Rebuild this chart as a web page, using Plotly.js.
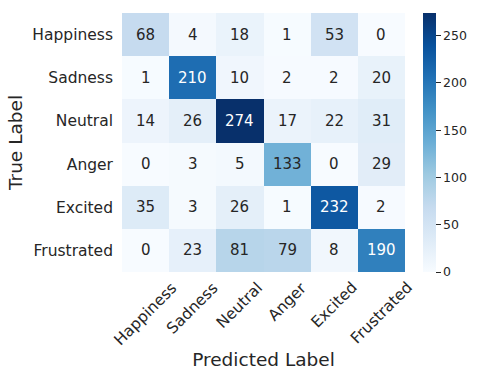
<!DOCTYPE html>
<html><head><meta charset="utf-8">
<script src="https://cdn.plot.ly/plotly-3.0.1.min.js"></script>
<style>html,body{margin:0;padding:0;background:#fff;}#chart{width:493px;height:388px;}</style>
</head><body><div id="chart"></div>
<script>
const labels = ["Happiness","Sadness","Neutral","Anger","Excited","Frustrated"];
const rowHappiness = [68, 4, 18, 1, 53, 0];
const rowSadness = [1, 210, 10, 2, 2, 20];
const rowNeutral = [14, 26, 274, 17, 22, 31];
const rowAnger = [0, 3, 5, 133, 0, 29];
const rowExcited = [35, 3, 26, 1, 232, 2];
const rowFrustrated = [0, 23, 81, 79, 8, 190];
const z = [rowHappiness, rowSadness, rowNeutral, rowAnger, rowExcited, rowFrustrated];

const blues = [[0,'#f7fbff'],[0.125,'#deebf7'],[0.25,'#c6dbef'],[0.375,'#9ecae1'],[0.5,'#6baed6'],[0.625,'#4292c6'],[0.75,'#2171b5'],[0.875,'#08519c'],[1,'#08306b']];
const zmax = Math.max(...z.flat());
const font = 'DejaVu Sans, sans-serif';
const dark = '#262626';
const annotations = [];
z.forEach((row,i)=>row.forEach((v,j)=>{
  annotations.push({x:labels[j], y:labels[i], text:String(v), showarrow:false,
    font:{family:font,size:15,color: v/zmax > 0.6 ? '#ffffff' : dark}});
}));
// rotated x tick labels centred under each column (like matplotlib rotation=45)
labels.forEach(l=>{
  annotations.push({x:l, xref:'x', y:0, yref:'paper', yanchor:'top', xanchor:'center', yshift:-4,
    text:l, textangle:-45, showarrow:false, font:{family:font,size:15.5,color:dark}});
});

const trace = {type:'heatmap', z:z, x:labels, y:labels, colorscale:blues, zmin:0, zmax:zmax,
  hoverinfo:'skip',
  colorbar:{x:1.0636, xanchor:'left', xref:'paper', xpad:0, ypad:0, y:0.5, yanchor:'middle', len:1, lenmode:'fraction', thickness:13,
    outlinewidth:0, ticks:'outside', ticklen:5, tickcolor:dark, tickvals:[0,50,100,150,200,250],
    tickfont:{family:font,size:12.5,color:dark}}};

const n = labels.length;
const layout = {width:493, height:388, margin:{l:122, r:88, t:13, b:116, autoexpand:false}, paper_bgcolor:'#fff', plot_bgcolor:'#fff',
  font:{family:font,color:dark},
  xaxis:{type:'category', range:[-0.5, n-0.5], automargin:false, showticklabels:false, ticks:'', showgrid:false, zeroline:false, showline:false,
    title:{text:'Predicted Label', font:{family:font,size:18.5,color:dark}, standoff:81}},
  yaxis:{type:'category', range:[n-0.5, -0.5], automargin:false, ticks:'', showgrid:false, zeroline:false, showline:false,
    tickfont:{family:font,size:15.5,color:dark}, ticklabelstandoff:8,
    title:{text:'True Label', font:{family:font,size:18.5,color:dark}, standoff:4}},
  annotations:annotations};

Plotly.newPlot('chart',[trace],layout,{displayModeBar:false, staticPlot:true});
</script></body></html>
